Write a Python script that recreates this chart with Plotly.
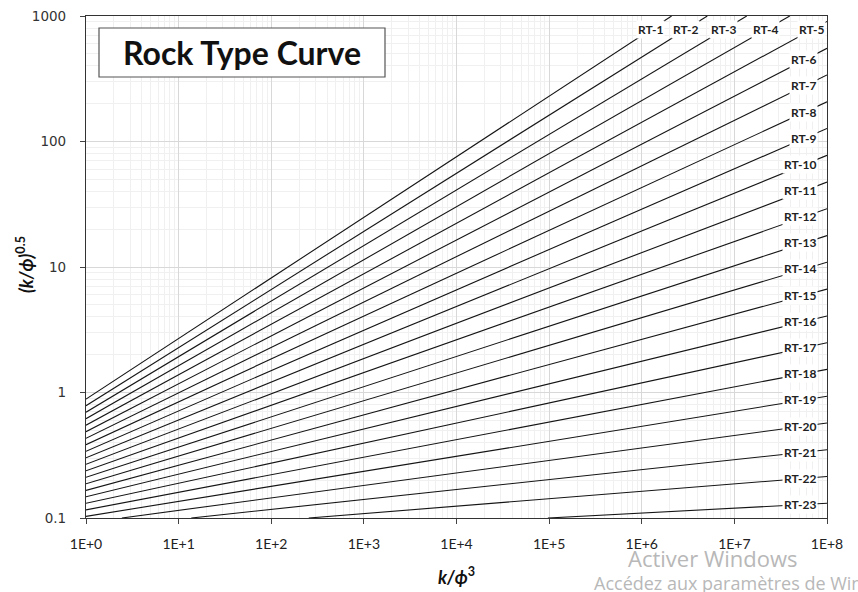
import numpy as np
import plotly.graph_objects as go

# Rock type lines: each is a straight line on log-log axes, given by its end points
rock_types = [f"RT-{i}" for i in range(1, 24)]
x_start = [1, 1, 1, 1, 1, 1, 1, 1, 1, 1, 1, 1, 1, 1, 1, 1, 1, 1, 1,
           2.44, 13.7, 254, 9.7e4]
y_start = [0.885, 0.785, 0.697, 0.618, 0.549, 0.487, 0.432, 0.384, 0.340,
           0.302, 0.268, 0.238, 0.211, 0.1875, 0.166, 0.1476, 0.131, 0.116,
           0.103, 0.1, 0.1, 0.1, 0.1]
x_end = [2.1e6, 5.1e6, 1.36e7, 3.96e7] + [1e8] * 19
y_end = [1000, 1000, 1000, 1000, 906, 553, 339, 207, 127, 77.6, 47.5, 29.1,
         17.8, 10.9, 6.67, 4.07, 2.49, 1.53, 0.933, 0.571, 0.350, 0.214, 0.131]

x_tick_vals = [1e0, 1e1, 1e2, 1e3, 1e4, 1e5, 1e6, 1e7, 1e8]
x_tick_text = ["1E+0", "1E+1", "1E+2", "1E+3", "1E+4", "1E+5", "1E+6", "1E+7", "1E+8"]
y_tick_vals = [0.1, 1, 10, 100, 1000]
y_tick_text = ["0.1", "1", "10", "100", "1000"]

LABEL_FONT = "Lato, 'Open Sans', sans-serif"

fig = go.Figure()
for name, xs, ys, xe, ye in zip(rock_types, x_start, y_start, x_end, y_end):
    fig.add_trace(go.Scatter(x=[xs, xe], y=[ys, ye], mode="lines", name=name,
                             line=dict(color="#151515", width=1.1),
                             showlegend=False, hoverinfo="name"))


def y_on_line(i, lx):
    """Value of line i at log10(x) = lx (lines are straight in log-log)."""
    a0, b0 = np.log10(x_start[i]), np.log10(y_start[i])
    a1, b1 = np.log10(x_end[i]), np.log10(y_end[i])
    return b0 + (b1 - b0) * (lx - a0) / (a1 - a0)


def x_on_line(i, ly):
    a0, b0 = np.log10(x_start[i]), np.log10(y_start[i])
    a1, b1 = np.log10(x_end[i]), np.log10(y_end[i])
    return a0 + (a1 - a0) * (ly - b0) / (b1 - b0)


annotations = []
for i, name in enumerate(rock_types):
    if i < 5:
        # top row of labels, sitting on each line just under the top border
        ly = 2.89
        lx = x_on_line(i, ly)
        annotations.append(dict(x=lx, y=ly, xref="x", yref="y", text=f"<b>{name}</b>",
                                showarrow=False, xanchor="center", yanchor="middle",
                                bgcolor="white", borderpad=1,
                                font=dict(family=LABEL_FONT, size=12, color="#222222")))
    else:
        lx = 7.76
        ly = y_on_line(i, lx)
        annotations.append(dict(x=7.905, y=ly, xref="x", yref="y", text=f"<b>{name}</b>",
                                showarrow=False, xanchor="right", yanchor="middle",
                                bgcolor="white", borderpad=1,
                                font=dict(family=LABEL_FONT, size=12, color="#222222")))

# chart title inside a framed box
annotations.append(dict(x=0.2105, y=0.927, xref="paper", yref="paper",
                        text="<b>Rock Type Curve</b>", showarrow=False,
                        xanchor="center", yanchor="middle",
                        font=dict(family=LABEL_FONT, size=32, color="#111111")))

# axis titles
annotations.append(dict(x=(457 - 86) / 741, y=-(576 - 518) / 502, xref="paper", yref="paper",
                        text="<b><i>k/ϕ</i><sup>3</sup></b>", showarrow=False,
                        xanchor="center", yanchor="middle",
                        font=dict(family=LABEL_FONT, size=18, color="#111111")))
annotations.append(dict(x=(25 - 86) / 741, y=(518 - 265) / 502, xref="paper", yref="paper",
                        text="<b><i>(k/ϕ)</i><sup>0.5</sup></b>", showarrow=False, textangle=-90,
                        xanchor="center", yanchor="middle",
                        font=dict(family=LABEL_FONT, size=18, color="#111111")))

# desktop watermark text
annotations.append(dict(x=(626 - 86) / 741, y=-(558 - 518) / 502, xref="paper", yref="paper",
                        text="Activer Windows", showarrow=False, xanchor="left", yanchor="middle",
                        font=dict(family="'Open Sans', sans-serif", size=22, color="#b8b8b8")))
annotations.append(dict(x=(592 - 86) / 741, y=-(583 - 518) / 502, xref="paper", yref="paper",
                        text="Accédez aux paramètres de Windows", showarrow=False,
                        xanchor="left", yanchor="middle",
                        font=dict(family="'Open Sans', sans-serif", size=18, color="#b8b8b8")))

fig.update_layout(
    width=858, height=592,
    margin=dict(l=86, r=31, t=16, b=74, autoexpand=False),
    paper_bgcolor="white", plot_bgcolor="white",
    annotations=annotations,
    shapes=[dict(type="rect", xref="paper", yref="paper",
                 x0=(99 - 86) / 741, x1=(385 - 86) / 741,
                 y0=(518 - 77) / 502, y1=(518 - 28) / 502,
                 line=dict(color="#555555", width=1.2), fillcolor="white", layer="above")],
)

fig.update_xaxes(
    type="log", range=[0, 8], automargin=False,
    tickvals=x_tick_vals, ticktext=x_tick_text,
    tickfont=dict(family=LABEL_FONT, size=14, color="#222222"),
    ticks="outside", ticklen=5, tickcolor="#444444", ticklabelstandoff=8,
    showline=True, linecolor="#333333", linewidth=1.2, mirror=True,
    showgrid=True, gridcolor="#d8d8d8", gridwidth=1,
    minor=dict(dtick="D1", showgrid=True, gridcolor="#f0f0f0", gridwidth=1, ticks=""),
    zeroline=False,
)
fig.update_yaxes(
    type="log", range=[-1, 3], automargin=False,
    tickvals=y_tick_vals, ticktext=y_tick_text,
    tickfont=dict(family="'DejaVu Sans', sans-serif", size=13.5, color="#333333"),
    ticks="outside", ticklen=5, tickcolor="#444444", ticklabelstandoff=11,
    showline=True, linecolor="#333333", linewidth=1.2, mirror=True,
    showgrid=True, gridcolor="#d8d8d8", gridwidth=1,
    minor=dict(dtick="D1", showgrid=True, gridcolor="#f0f0f0", gridwidth=1, ticks=""),
    zeroline=False,
)

fig.write_html("out.html")
